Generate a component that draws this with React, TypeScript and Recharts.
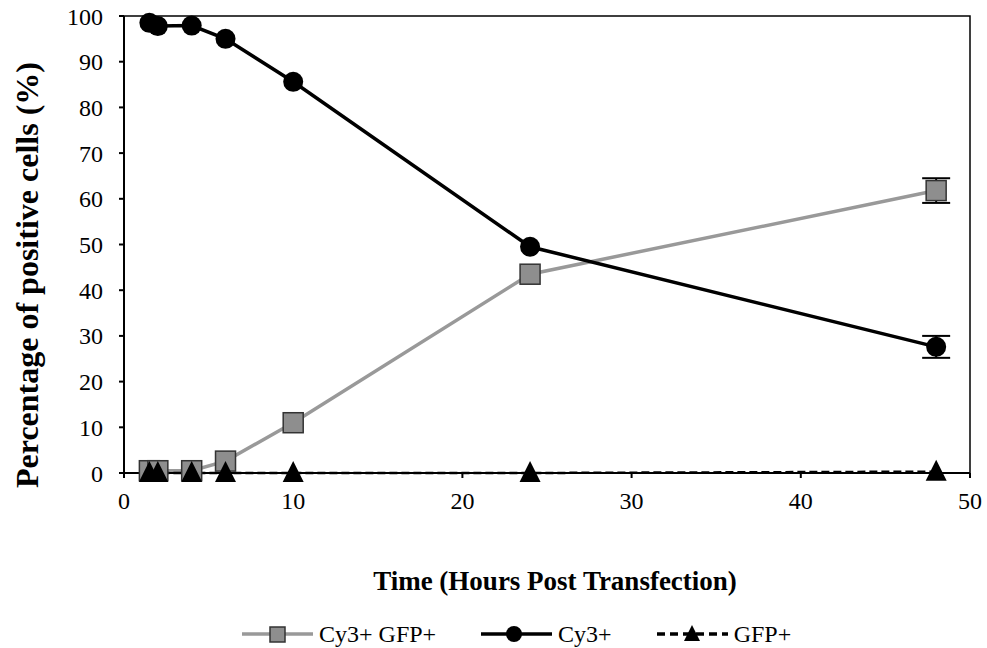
import React from "react";
import {
	ErrorBar,
	Legend,
	Line,
	LineChart,
	ReferenceArea,
	XAxis,
	YAxis,
} from "recharts";

// hours post transfection
const hours = [1.5, 2, 4, 6, 10, 24, 48];
const cy3Gfp = [0.5, 0.5, 0.5, 2.6, 11, 43.5, 61.8];
const cy3Gfp_err = [0, 0, 0, 0, 0, 0, 2.7];
const cy3 = [98.5, 97.8, 97.9, 95, 85.6, 49.5, 27.6];
const cy3_err = [0, 0, 0, 0, 0, 0, 2.4];
const gfp = [0, 0, 0, 0, 0, 0, 0.3];

const xTicks = [0, 10, 20, 30, 40, 50];
const yTicks = [0, 10, 20, 30, 40, 50, 60, 70, 80, 90, 100];

const data = hours.map((h, i) => ({
	hours: h,
	cy3Gfp: cy3Gfp[i],
	cy3GfpErr: cy3Gfp_err[i],
	cy3: cy3[i],
	cy3Err: cy3_err[i],
	gfp: gfp[i],
}));

const GRAY_LINE = "#999999";
const GRAY_FILL = "#8e8e8e";
const SERIF = "'Liberation Serif', 'Times New Roman', serif";

function SquareDot(props: any) {
	const { cx, cy, index } = props;
	if (cx == null || cy == null) return null;
	return (
		<rect key={`sq-${index}`} x={cx - 10} y={cy - 10} width={20} height={20} fill={GRAY_FILL} stroke="#333" strokeWidth={1.5} />
	);
}

function CircleDot(props: any) {
	const { cx, cy, index } = props;
	if (cx == null || cy == null) return null;
	return <circle key={`ci-${index}`} cx={cx} cy={cy} r={10} fill="#000" />;
}

function TriangleDot(props: any) {
	const { cx, cy, index } = props;
	if (cx == null || cy == null) return null;
	return (
		<path key={`tr-${index}`} d={`M${cx},${cy - 12} L${cx + 10.5},${cy + 9} L${cx - 10.5},${cy + 9} Z`} fill="#000" />
	);
}

function LegendContent() {
	const item = (marker: React.ReactNode, text: string, dash?: string, color = "#000") => (
		<div style={{ display: "flex", alignItems: "center", marginRight: 45 }}>
			<svg width={71} height={22}>
				<line x1={0} y1={11} x2={71} y2={11} stroke={color} strokeWidth={3.5} strokeDasharray={dash} />
				{marker}
			</svg>
			<span style={{ fontFamily: SERIF, fontSize: 24, marginLeft: 6, lineHeight: "24px" }}>{text}</span>
		</div>
	);
	return (
		<div style={{ display: "flex", justifyContent: "flex-start", paddingTop: 14, paddingLeft: 242 }}>
			{item(<rect x={28} y={4} width={15} height={15} fill={GRAY_FILL} stroke="#333" strokeWidth={1.5} />, "Cy3+ GFP+", undefined, GRAY_LINE)}
			{item(<circle cx={33} cy={11} r={8} fill="#000" />, "Cy3+")}
			{item(<path d="M35,2 L43,18 L27,18 Z" fill="#000" />, "GFP+", "8 5")}
		</div>
	);
}

export default function App() {
	return (
		<div style={{ position: "absolute", left: 0, top: 0, background: "#fff" }}>
			<LineChart width={987} height={648} data={data} margin={{ top: 16, right: 17, left: 0, bottom: 0 }}>
				<XAxis
					dataKey="hours"
					type="number"
					domain={[0, 50]}
					ticks={xTicks}
					height={135}
					stroke="#000"
					strokeWidth={2}
					tickSize={5}
					tick={{ fill: "#000", fontFamily: SERIF, fontSize: 24, dy: 12 }}
					label={({ viewBox }: any) => (
						<text
							x={viewBox.x + viewBox.width / 2 + 8}
							y={viewBox.y + 117}
							textAnchor="middle"
							fontFamily={SERIF}
							fontWeight="bold"
							fontSize={27}
							fill="#000"
						>
							Time (Hours Post Transfection)
						</text>
					)}
				/>
				<YAxis
					type="number"
					domain={[0, 100]}
					ticks={yTicks}
					width={124}
					stroke="#000"
					strokeWidth={2}
					tickSize={5}
					tick={{ fill: "#000", fontFamily: SERIF, fontSize: 24, dx: -14 }}
					label={() => {
						const cx = 27;
						const cy = 275;
						return (
							<text
								x={cx}
								y={cy}
								transform={`rotate(-90, ${cx}, ${cy})`}
								textAnchor="middle"
								dominantBaseline="central"
								fontFamily={SERIF}
								fontWeight="bold"
								fontSize={32}
								fill="#000"
							>
								Percentage of positive cells (%)
							</text>
						);
					}}
				/>
				<ReferenceArea x1={0} x2={50} y1={0} y2={100} fill="none" stroke="#000" strokeWidth={1.5} ifOverflow="visible" />
				<Legend verticalAlign="bottom" height={40} content={<LegendContent />} />
				<Line
					dataKey="cy3Gfp"
					stroke={GRAY_LINE}
					strokeWidth={3.5}
					dot={SquareDot}
					activeDot={false}
					isAnimationActive={false}
				>
					<ErrorBar dataKey="cy3GfpErr" width={14} stroke="#000" strokeWidth={2} direction="y" />
				</Line>
				<Line
					dataKey="cy3"
					stroke="#000"
					strokeWidth={3.5}
					dot={CircleDot}
					activeDot={false}
					isAnimationActive={false}
				>
					<ErrorBar dataKey="cy3Err" width={14} stroke="#000" strokeWidth={2} direction="y" />
				</Line>
				<Line
					dataKey="gfp"
					stroke="#000"
					strokeWidth={2.5}
					strokeDasharray="8 4"
					dot={TriangleDot}
					activeDot={false}
					isAnimationActive={false}
				/>
			</LineChart>
		</div>
	);
}
